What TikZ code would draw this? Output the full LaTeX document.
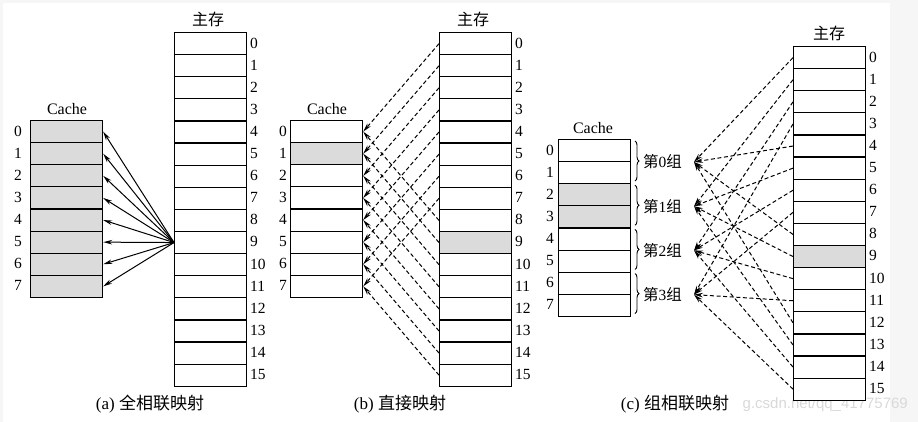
\documentclass[tikz,border=0pt]{standalone}
\usepackage{fontspec}
\setmainfont{Liberation Serif}
\newfontfamily\cjk{Noto Sans CJK SC}
\newfontfamily\wmfont{Liberation Sans}
\usetikzlibrary{arrows.meta,decorations.pathreplacing}
\definecolor{shade}{gray}{0.86}
\begin{document}
\begin{tikzpicture}[x=1pt,y=-1pt,
  cell/.style={draw=black,line width=1.2pt,minimum width=72pt,minimum height=22.1pt,inner sep=0pt,anchor=north west},
  lbl/.style={font=\fontsize{15.5}{18}\selectfont,inner sep=0pt},
  ttl/.style={font=\fontsize{16}{18}\selectfont,inner sep=0pt},
  captext/.style={font=\fontsize{17}{20}\selectfont,inner sep=0pt},
  arr/.style={-{Stealth[length=9pt,width=4.5pt]},line width=1pt},
  darr/.style={arr,dash pattern=on 4pt off 2.6pt},
  bracestyle/.style={line width=0.9pt,decorate,decoration={brace,amplitude=4pt}}]
\useasboundingbox (0,0) rectangle (918,422);
\fill[gray!7] (0,0) rectangle (918,422);
\fill[white] (3,3) rectangle (890,422);
% watermark (visible part)
\node[font=\wmfont\fontsize{15}{18}\selectfont,text=gray!30,anchor=east,inner sep=0pt] (wm) at (908,405) {g.csdn.net/qq\_41775769};

% ---------- (a) ----------
\node[ttl] (atm) at (208,19) {\cjk 主存};
\node[ttl] (atc) at (67,109) {Cache};
\foreach \i in {0,...,7} {
  \node[cell,fill=shade] (ac\i) at (30,{120+22.1*\i}) {};
  \node[lbl] (acl\i) at (18,{131+22.1*\i}) {\i};
}
\foreach \j in {0,...,15} {
  \node[cell] (am\j) at (174,{32+22.1*\j}) {};
  \node[lbl,anchor=west] (aml\j) at (250,{43+22.1*\j}) {\j};
}
\foreach \i in {0,...,7} \draw[arr] (am9.west) -- (ac\i.east);
\node[captext] (capa) at (150,404) {(a) {\cjk 全相联映射}};

% ---------- (b) ----------
\node[ttl] (btm) at (473,19) {\cjk 主存};
\node[ttl] (btc) at (327,109) {Cache};
\foreach \i in {0,...,7} {
  \ifnum\i=1 \colorlet{cf}{shade}\else\colorlet{cf}{white}\fi
  \node[cell,fill=cf] (bc\i) at (290,{120+22.1*\i}) {};
  \node[lbl] (bcl\i) at (283,{131+22.1*\i}) {\i};
}
\foreach \j in {0,...,15} {
  \ifnum\j=9 \colorlet{cf}{shade}\else\colorlet{cf}{white}\fi
  \node[cell,fill=cf] (bm\j) at (439,{32+22.1*\j}) {};
  \node[lbl,anchor=west] (bml\j) at (515,{43+22.1*\j}) {\j};
}
\foreach \j in {0,...,15} {
  \pgfmathtruncatemacro{\k}{mod(\j,8)}
  \draw[darr] (bm\j.west) -- (bc\k.east);
}
\node[captext] (capb) at (400,404) {(b) {\cjk 直接映射}};

% ---------- (c) ----------
\node[ttl] (ctm) at (829,33) {\cjk 主存};
\node[ttl] (ctc) at (593,128) {Cache};
\foreach \i in {0,...,7} {
  \ifnum\i=2 \colorlet{cf}{shade}\else\ifnum\i=3 \colorlet{cf}{shade}\else\colorlet{cf}{white}\fi\fi
  \node[cell,fill=cf] (cc\i) at (558,{139+22.1*\i}) {};
  \node[lbl] (ccl\i) at (550,{150+22.1*\i}) {\i};
}
\foreach \j in {0,...,15} {
  \ifnum\j=9 \colorlet{cf}{shade}\else\colorlet{cf}{white}\fi
  \node[cell,fill=cf] (cm\j) at (793,{46+22.1*\j}) {};
  \node[lbl,anchor=west] (cml\j) at (869,{57+22.1*\j}) {\j};
}
\foreach \k in {0,...,3} {
  \draw[bracestyle] (635,{141+44.2*\k}) -- (635,{181+44.2*\k});
  \node[lbl,anchor=west] (g\k) at (643,{162+44.2*\k}) {{\cjk 第}\k{\cjk 组}};
  \coordinate (gt\k) at (694,{162+44.2*\k});
}
\foreach \j in {0,...,15} {
  \pgfmathtruncatemacro{\k}{mod(\j,4)}
  \draw[darr] (cm\j.west) -- (gt\k);
}
\node[captext] (capc) at (675,404) {(c) {\cjk 组相联映射}};
\end{tikzpicture}
\end{document}
